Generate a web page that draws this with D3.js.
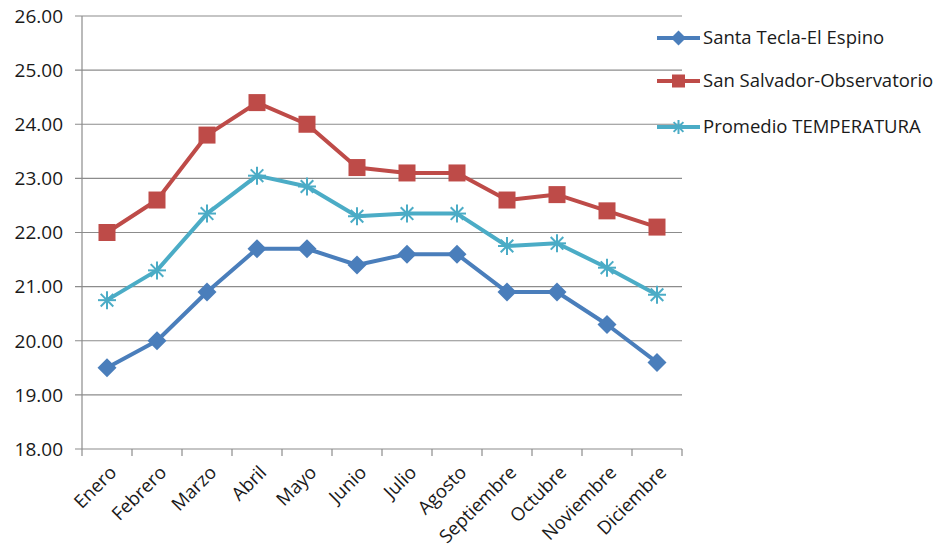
<!DOCTYPE html>
<html><head><meta charset="utf-8">
<script src="https://cdn.jsdelivr.net/npm/d3@7"></script>
<style>body{margin:0;background:#fff}svg{display:block}text{font-family:"Open Sans",sans-serif;fill:#1a1a1a}</style>
</head><body>
<svg id="c" width="942" height="552"></svg>
<script>
const months = ["Enero","Febrero","Marzo","Abril","Mayo","Junio","Julio","Agosto","Septiembre","Octubre","Noviembre","Diciembre"];
const santaTecla = [19.5,20.0,20.9,21.7,21.7,21.4,21.6,21.6,20.9,20.9,20.3,19.6];
const sanSalvador = [22.0,22.6,23.8,24.4,24.0,23.2,23.1,23.1,22.6,22.7,22.4,22.1];
const promedio = [20.75,21.3,22.35,23.05,22.85,22.3,22.35,22.35,21.75,21.8,21.35,20.85];
const yTicks = [18,19,20,21,22,23,24,25,26];
const seriesNames = ["Santa Tecla-El Espino","San Salvador-Observatorio","Promedio TEMPERATURA"];
const colors = ["#4A7EBB","#BE4B48","#4BACC6"];
const shapes = ["diamond","square","star"];

const series = [santaTecla, sanSalvador, promedio].map((v,i)=>({name:seriesNames[i], values:v, color:colors[i], shape:shapes[i]}));

const svg = d3.select("#c");
const L=82, R=682, T=16, B=449;
const x = d3.scaleBand().domain(months).range([L,R]);
const y = d3.scaleLinear().domain([18,26]).range([B,T]);

svg.append("g").selectAll("line").data(yTicks).join("line")
  .attr("x1",L-7).attr("x2",R).attr("y1",d=>y(d)).attr("y2",d=>y(d))
  .attr("stroke","#8c8c8c").attr("stroke-width",1.2);
svg.append("g").selectAll("text").data(yTicks).join("text")
  .attr("x",63).attr("y",d=>y(d)).attr("dy","0.36em").attr("text-anchor","end")
  .attr("font-size",19).text(d=>d.toFixed(2));
svg.append("line").attr("x1",L).attr("x2",L).attr("y1",T).attr("y2",B+7).attr("stroke","#8c8c8c").attr("stroke-width",1.2);
const bounds = months.map(m=>x(m)).concat([R]);
svg.append("g").selectAll("line").data(bounds.slice(1)).join("line")
  .attr("x1",d=>d).attr("x2",d=>d).attr("y1",B).attr("y2",B+7).attr("stroke","#8c8c8c").attr("stroke-width",1.2);
svg.append("g").selectAll("text").data(months).join("text")
  .attr("transform",d=>`translate(${x(d)+x.bandwidth()/2+6},${B+20}) rotate(-45)`)
  .attr("text-anchor","end").attr("dy","0.35em").attr("font-size",18.5).text(d=>d);

function marker(g, shape, color, s){
  if(shape==="diamond"){
    g.append("path").attr("d",`M0,${-s}L${s},0L0,${s}L${-s},0Z`).attr("fill",color);
  } else if(shape==="square"){
    g.append("rect").attr("x",-s).attr("y",-s).attr("width",2*s).attr("height",2*s).attr("fill",color);
  } else {
    const r=s;
    [[-r,0,r,0],[-r*0.7,-r*0.7,r*0.7,r*0.7],[-r*0.7,r*0.7,r*0.7,-r*0.7],[0,-r,0,r]].forEach(a=>{
      g.append("line").attr("x1",a[0]).attr("y1",a[1]).attr("x2",a[2]).attr("y2",a[3]).attr("stroke",color).attr("stroke-width",2);
    });
  }
}
const sizes = {diamond:9.5, square:8.5, star:9};
const line = d3.line().x((d,i)=>x(months[i])+x.bandwidth()/2).y(d=>y(d));
series.forEach(s=>{
  svg.append("path").datum(s.values).attr("d",line).attr("fill","none")
    .attr("stroke",s.color).attr("stroke-width",4).attr("stroke-linejoin","round");
  s.values.forEach((v,i)=>{
    const g = svg.append("g").attr("transform",`translate(${x(months[i])+x.bandwidth()/2},${y(v)})`);
    marker(g, s.shape, s.color, sizes[s.shape]);
  });
});
const legY = [38,81,127];
series.forEach((s,i)=>{
  const g = svg.append("g").attr("transform",`translate(0,${legY[i]})`);
  g.append("line").attr("x1",657).attr("x2",700).attr("y1",0).attr("y2",0).attr("stroke",s.color).attr("stroke-width",4);
  const m = g.append("g").attr("transform","translate(678.5,0)");
  marker(m, s.shape, s.color, sizes[s.shape]-2);
  g.append("text").attr("x",703).attr("y",0).attr("dy","0.35em").attr("font-size",18.5).text(s.name);
});
</script>
</body></html>
